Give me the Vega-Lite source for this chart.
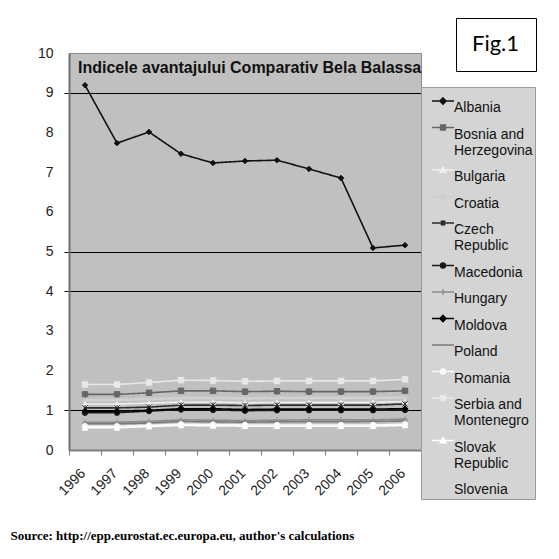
{
  "$schema": "https://vega.github.io/schema/vega-lite/v6.json",
  "width": 352,
  "height": 397,
  "autosize": {"type": "none"},
  "padding": {"left": 69, "top": 53, "right": 138, "bottom": 109},
  "background": "white",
  "title": {
    "text": "Indicele avantajului  Comparativ  Bela  Balassa",
    "anchor": "start",
    "frame": "group",
    "orient": "top",
    "font": "Liberation Sans",
    "fontSize": 16,
    "fontWeight": "bold",
    "color": "#111111",
    "baseline": "top",
    "offset": -10,
    "dx": 9,
    "dy": 48
  },
  "config": {
    "view": {"fill": "#c0c0c0", "stroke": "#8a8a8a", "strokeWidth": 1}
  },
  "data": {
    "values": [
      {"year": "1996", "Albania": 9.19, "Bosnia and Herzegovina": 1.40, "Bulgaria": 1.16, "Croatia": 1.28, "Czech Republic": 1.06, "Macedonia": 0.94, "Hungary": 0.70, "Moldova": 0.98, "Poland": 0.66, "Romania": 0.60, "Serbia and Montenegro": 1.65, "Slovak Republic": 0.56, "Slovenia": 1.25},
      {"year": "1997", "Albania": 7.73, "Bosnia and Herzegovina": 1.40, "Bulgaria": 1.16, "Croatia": 1.28, "Czech Republic": 1.06, "Macedonia": 0.94, "Hungary": 0.70, "Moldova": 0.98, "Poland": 0.66, "Romania": 0.60, "Serbia and Montenegro": 1.65, "Slovak Republic": 0.56, "Slovenia": 1.25},
      {"year": "1998", "Albania": 8.01, "Bosnia and Herzegovina": 1.44, "Bulgaria": 1.18, "Croatia": 1.30, "Czech Republic": 1.08, "Macedonia": 0.98, "Hungary": 0.72, "Moldova": 1.00, "Poland": 0.68, "Romania": 0.62, "Serbia and Montenegro": 1.70, "Slovak Republic": 0.59, "Slovenia": 1.27},
      {"year": "1999", "Albania": 7.46, "Bosnia and Herzegovina": 1.49, "Bulgaria": 1.21, "Croatia": 1.33, "Czech Republic": 1.13, "Macedonia": 1.02, "Hungary": 0.76, "Moldova": 1.04, "Poland": 0.72, "Romania": 0.65, "Serbia and Montenegro": 1.76, "Slovak Republic": 0.62, "Slovenia": 1.30},
      {"year": "2000", "Albania": 7.23, "Bosnia and Herzegovina": 1.49, "Bulgaria": 1.21, "Croatia": 1.33, "Czech Republic": 1.13, "Macedonia": 1.01, "Hungary": 0.75, "Moldova": 1.04, "Poland": 0.71, "Romania": 0.64, "Serbia and Montenegro": 1.75, "Slovak Republic": 0.61, "Slovenia": 1.30},
      {"year": "2001", "Albania": 7.28, "Bosnia and Herzegovina": 1.47, "Bulgaria": 1.19, "Croatia": 1.32, "Czech Republic": 1.12, "Macedonia": 0.99, "Hungary": 0.74, "Moldova": 1.02, "Poland": 0.70, "Romania": 0.63, "Serbia and Montenegro": 1.73, "Slovak Republic": 0.60, "Slovenia": 1.29},
      {"year": "2002", "Albania": 7.30, "Bosnia and Herzegovina": 1.48, "Bulgaria": 1.20, "Croatia": 1.33, "Czech Republic": 1.13, "Macedonia": 1.00, "Hungary": 0.75, "Moldova": 1.03, "Poland": 0.71, "Romania": 0.63, "Serbia and Montenegro": 1.74, "Slovak Republic": 0.60, "Slovenia": 1.30},
      {"year": "2003", "Albania": 7.08, "Bosnia and Herzegovina": 1.47, "Bulgaria": 1.20, "Croatia": 1.33, "Czech Republic": 1.13, "Macedonia": 1.00, "Hungary": 0.76, "Moldova": 1.03, "Poland": 0.71, "Romania": 0.63, "Serbia and Montenegro": 1.74, "Slovak Republic": 0.60, "Slovenia": 1.30},
      {"year": "2004", "Albania": 6.85, "Bosnia and Herzegovina": 1.47, "Bulgaria": 1.20, "Croatia": 1.33, "Czech Republic": 1.13, "Macedonia": 1.00, "Hungary": 0.76, "Moldova": 1.03, "Poland": 0.71, "Romania": 0.63, "Serbia and Montenegro": 1.74, "Slovak Republic": 0.60, "Slovenia": 1.30},
      {"year": "2005", "Albania": 5.09, "Bosnia and Herzegovina": 1.47, "Bulgaria": 1.20, "Croatia": 1.33, "Czech Republic": 1.13, "Macedonia": 1.00, "Hungary": 0.76, "Moldova": 1.03, "Poland": 0.72, "Romania": 0.63, "Serbia and Montenegro": 1.74, "Slovak Republic": 0.60, "Slovenia": 1.30},
      {"year": "2006", "Albania": 5.16, "Bosnia and Herzegovina": 1.49, "Bulgaria": 1.22, "Croatia": 1.34, "Czech Republic": 1.16, "Macedonia": 1.01, "Hungary": 0.78, "Moldova": 1.04, "Poland": 0.73, "Romania": 0.65, "Serbia and Montenegro": 1.78, "Slovak Republic": 0.62, "Slovenia": 1.31}
    ]
  },
  "transform": [
    {"fold": ["Albania", "Bosnia and Herzegovina", "Bulgaria", "Croatia", "Czech Republic", "Macedonia", "Hungary", "Moldova", "Poland", "Romania", "Serbia and Montenegro", "Slovak Republic", "Slovenia"], "as": ["country", "value"]}
  ],
  "encoding": {
    "x": {
      "field": "year",
      "type": "ordinal",
      "bandPosition": 0.5,
      "scale": {"type": "band", "paddingInner": 0, "paddingOuter": 0},
      "axis": {
        "title": "Source: http://epp.eurostat.ec.europa.eu, author's calculations",
        "titleFont": "Liberation Serif",
        "titleFontWeight": "bold",
        "titleFontSize": 13,
        "titleColor": "#000000",
        "titleX": -59,
        "titleY": 79,
        "titleAlign": "left",
        "titleAnchor": "start",
        "titleBaseline": "top",
        "labelAngle": -45,
        "labelFont": "Liberation Sans",
        "labelFontSize": 14,
        "labelColor": "#222222",
        "labelPadding": 11,
        "labelOffset": -7,
        "tickBand": "extent",
        "tickSize": 5,
        "tickColor": "#808080",
        "domainColor": "#808080",
        "domainWidth": 2,
        "grid": false
      }
    },
    "y": {
      "field": "value",
      "type": "quantitative",
      "scale": {"domain": [0, 10], "nice": false},
      "axis": {
        "title": null,
        "values": [0, 1, 2, 3, 4, 5, 6, 7, 8, 9, 10],
        "grid": true,
        "gridWidth": 1,
        "gridColor": {"condition": {"test": "indexof([1, 4, 5, 9], datum.value) >= 0", "value": "#000000"}, "value": "transparent"},
        "tickColor": {"condition": {"test": "indexof([1, 4, 5, 9], datum.value) >= 0", "value": "#000000"}, "value": "transparent"},
        "tickSize": 5,
        "labelPadding": 11,
        "labelFont": "Liberation Sans",
        "labelFontSize": 14,
        "labelColor": "#222222",
        "domainColor": "#707070",
        "domainWidth": 2
      }
    }
  },
  "layer": [
    {
      "mark": {"type": "line", "strokeWidth": 1.6},
      "encoding": {
        "stroke": {
          "field": "country",
          "type": "nominal",
          "scale": {
            "domain": ["Albania", "Bosnia and Herzegovina", "Bulgaria", "Croatia", "Czech Republic", "Macedonia", "Hungary", "Moldova", "Poland", "Romania", "Serbia and Montenegro", "Slovak Republic", "Slovenia"],
            "range": ["#111111", "#666666", "#eeeeee", "#cccccc", "#2a2a2a", "#1a1a1a", "#8c8c8c", "#000000", "#7a7a7a", "#f8f8f8", "#e8e8e8", "#ffffff", "#d2d2d2"]
          },
          "legend": null
        },
        "strokeDash": {
          "datum": "Fig.1",
          "scale": {"range": [[1, 0]]},
          "legend": {
            "orient": "none",
            "legendX": 387,
            "legendY": -35,
            "values": [],
            "title": "Fig.1",
            "titleFont": "Lato",
            "titleFontSize": 22,
            "titleFontWeight": "normal",
            "titleColor": "#000000",
            "fillColor": "#ffffff",
            "strokeColor": "#000000",
            "padding": 16
          }
        }
      }
    },
    {
      "mark": {"type": "point", "filled": true, "size": 30, "strokeWidth": 1, "opacity": 1},
      "encoding": {
        "fill": {
          "field": "country",
          "type": "nominal",
          "scale": {
            "domain": ["Albania", "Bosnia and Herzegovina", "Bulgaria", "Croatia", "Czech Republic", "Macedonia", "Hungary", "Moldova", "Poland", "Romania", "Serbia and Montenegro", "Slovak Republic", "Slovenia"],
            "range": ["#111111", "#666666", "#eeeeee", "#cccccc", "#2a2a2a", "#1a1a1a", "#8c8c8c", "#000000", "#7a7a7a", "#f8f8f8", "#e8e8e8", "#ffffff", "#d2d2d2"]
          },
          "legend": null
        },
        "stroke": {
          "field": "country",
          "type": "nominal",
          "scale": {
            "domain": ["Albania", "Bosnia and Herzegovina", "Bulgaria", "Croatia", "Czech Republic", "Macedonia", "Hungary", "Moldova", "Poland", "Romania", "Serbia and Montenegro", "Slovak Republic", "Slovenia"],
            "range": ["#111111", "#666666", "#eeeeee", "#cccccc", "#2a2a2a", "#1a1a1a", "#8c8c8c", "#000000", "#7a7a7a", "#f8f8f8", "#e8e8e8", "#ffffff", "#d2d2d2"]
          },
          "legend": null
        },
        "shape": {
          "field": "country",
          "type": "nominal",
          "scale": {
            "domain": ["Albania", "Bosnia and Herzegovina", "Bulgaria", "Croatia", "Czech Republic", "Macedonia", "Hungary", "Moldova", "Poland", "Romania", "Serbia and Montenegro", "Slovak Republic", "Slovenia"],
            "range": ["diamond", "square", "triangle-up", "M-1,-1L1,1M-1,1L1,-1", "M-1,-1L1,1M-1,1L1,-1M0,-1V1", "circle", "M-1,0H1M0,-1V1", "diamond", "M-1,0H1", "circle", "square", "triangle-up", "M-1,0H1"]
          },
          "legend": null
        }
      }
    },
    {
      "mark": {"type": "point", "filled": true, "size": 0, "opacity": 1},
      "encoding": {
        "fill": {
          "field": "country",
          "type": "nominal",
          "scale": {
            "domain": ["Albania", "Bosnia and Herzegovina", "Bulgaria", "Croatia", "Czech Republic", "Macedonia", "Hungary", "Moldova", "Poland", "Romania", "Serbia and Montenegro", "Slovak Republic", "Slovenia"],
            "range": ["#111111", "#666666", "#eeeeee", "#cccccc", "#2a2a2a", "#1a1a1a", "#8c8c8c", "#000000", "#7a7a7a", "#f8f8f8", "#e8e8e8", "#ffffff", "#d2d2d2"]
          }
        },
        "stroke": {
          "field": "country",
          "type": "nominal",
          "scale": {
            "domain": ["Albania", "Bosnia and Herzegovina", "Bulgaria", "Croatia", "Czech Republic", "Macedonia", "Hungary", "Moldova", "Poland", "Romania", "Serbia and Montenegro", "Slovak Republic", "Slovenia"],
            "range": ["#111111", "#666666", "#eeeeee", "#cccccc", "#2a2a2a", "#1a1a1a", "#8c8c8c", "#000000", "#7a7a7a", "#f8f8f8", "#e8e8e8", "#ffffff", "#d2d2d2"]
          }
        },
        "shape": {
          "field": "country",
          "type": "nominal",
          "scale": {
            "domain": ["Albania", "Bosnia and Herzegovina", "Bulgaria", "Croatia", "Czech Republic", "Macedonia", "Hungary", "Moldova", "Poland", "Romania", "Serbia and Montenegro", "Slovak Republic", "Slovenia"],
            "range": [
              "M-1,0H1M0,-0.28L0.28,0L0,0.28L-0.28,0Z",
              "M-1,0H1M-0.22,-0.22H0.22V0.22H-0.22Z",
              "M-1,0H1M0,-0.26L0.26,0.2H-0.26Z",
              "M-1,0H1M-0.2,-0.2L0.2,0.2M-0.2,0.2L0.2,-0.2",
              "M-1,0H1M-0.2,-0.2L0.2,0.2M-0.2,0.2L0.2,-0.2M0,-0.26V0.26",
              "M-1,0H1M0.22,0A0.22,0.22,0,1,1,-0.22,0A0.22,0.22,0,1,1,0.22,0Z",
              "M-1,0H1M0,-0.28V0.28",
              "M-1,0H1M0,-0.28L0.28,0L0,0.28L-0.28,0Z",
              "M-1,0H1",
              "M-1,0H1M0.22,0A0.22,0.22,0,1,1,-0.22,0A0.22,0.22,0,1,1,0.22,0Z",
              "M-1,0H1M-0.22,-0.22H0.22V0.22H-0.22Z",
              "M-1,0H1M0,-0.26L0.26,0.2H-0.26Z",
              "M-1,0H1"
            ]
          },
          "legend": {
            "orient": "none",
            "legendX": 352,
            "legendY": 34,
            "title": null,
            "padding": 2,
            "fillColor": "#d4d4d4",
            "strokeColor": "#9a9a9a",
            "symbolSize": 484,
            "symbolStrokeWidth": 1.5,
            "symbolOpacity": 1,
            "symbolOffset": 8,
            "labelOffset": -1,
            "labelFont": "Liberation Sans",
            "labelFontSize": 14,
            "labelColor": "#111111",
            "labelBaseline": "top",
            "labelLimit": 200,
            "rowPadding": 0.5,
            "labelExpr": "datum.label === 'Bosnia and Herzegovina' ? ['Bosnia and', 'Herzegovina'] : datum.label === 'Czech Republic' ? ['Czech', 'Republic'] : datum.label === 'Serbia and Montenegro' ? ['Serbia and', 'Montenegro'] : datum.label === 'Slovak Republic' ? ['Slovak', 'Republic'] : datum.label",
            "encode": {
              "labels": {"update": {"dy": {"value": -11}, "lineHeight": {"value": 16}}}
            }
          }
        }
      }
    }
  ],
  "resolve": {"scale": {"fill": "independent", "stroke": "independent", "shape": "independent"}}
}
